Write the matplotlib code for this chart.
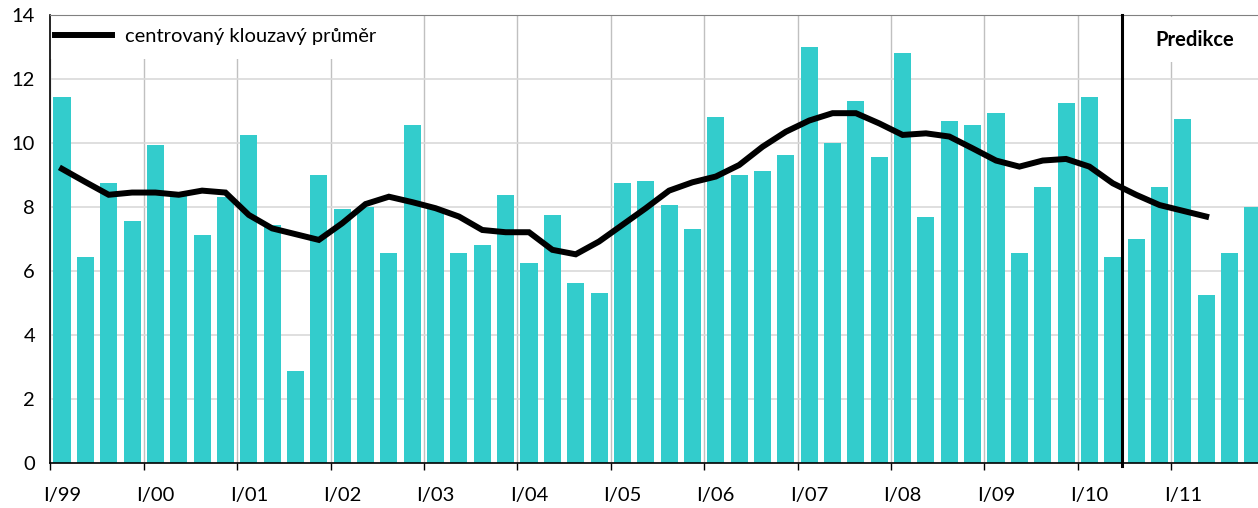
import numpy as np
import matplotlib
matplotlib.use('Agg')
import matplotlib.pyplot as plt
from matplotlib.patches import Rectangle

plt.rcParams['font.family'] = ['Lato', 'DejaVu Sans']

years = ['99', '00', '01', '02', '03', '04', '05', '06', '07', '08', '09', '10', '11']
tick_labels = ['I/' + y for y in years]

# quarterly values I/99 .. IV/11
values = [11.45, 6.45, 8.76, 7.57,
          9.95, 8.40, 7.13, 8.32,
          10.26, 7.45, 2.88, 9.01,
          7.95, 8.01, 6.57, 10.57,
          7.95, 6.57, 6.82, 8.39,
          6.26, 7.76, 5.64, 5.32,
          8.76, 8.82, 8.07, 7.32,
          10.82, 9.01, 9.13, 9.63,
          13.01, 10.01, 11.32, 9.57,
          12.82, 7.70, 10.70, 10.57,
          10.95, 6.57, 8.64, 11.26,
          11.45, 6.45, 7.01, 8.64,
          10.76, 5.26, 6.57, 8.01]

# centered moving average, I/99 .. II/11
moving_avg = [9.20, 8.79, 8.39, 8.46, 8.46, 8.39, 8.52, 8.46,
              7.76, 7.34, 7.16, 6.98, 7.50, 8.10, 8.33, 8.16,
              7.97, 7.71, 7.29, 7.22, 7.22, 6.67, 6.53, 6.93,
              7.45, 7.97, 8.52, 8.78, 8.96, 9.32, 9.89, 10.36,
              10.71, 10.94, 10.94, 10.62, 10.26, 10.31, 10.21, 9.84,
              9.46, 9.27, 9.46, 9.51, 9.27, 8.75, 8.39, 8.07,
              7.89, 7.71]

prediction_start = 45.4
fs = 14.5

fig = plt.figure(figsize=(12.58, 5.08), dpi=100)
ax = fig.add_axes([0.04, 0.088, 0.9652, 0.882])

x = np.arange(len(values))
ax.bar(x, values, width=0.73, color='#33CCCC', zorder=2)
ax.plot(np.arange(len(moving_avg)), moving_avg, color='black', lw=4.3,
        solid_joinstyle='miter', zorder=3, label='centrovaný klouzavý průměr')

ax.plot([prediction_start, prediction_start], [-0.1, 14], color='black',
        lw=2.2, zorder=4, clip_on=False)
ax.text(48.5, 13.23, 'Predikce', fontsize=fs, fontweight='bold',
        ha='center', va='center', zorder=5,
        bbox=dict(facecolor='white', edgecolor='none', pad=9))

ax.set_xlim(-0.5, 51.5)
ax.set_ylim(0, 14)
ax.set_yticks(np.arange(0, 15, 2))
ax.tick_params(axis='y', length=0, pad=11, labelsize=fs)

# year boundaries carry gridlines and tick marks, labels sit under first quarter
ax.set_xticks(np.arange(-0.5, 52, 4))
ax.set_xticklabels([])
ax.set_xticks(np.arange(0, 52, 4), minor=True)
ax.set_xticklabels(tick_labels, minor=True)
ax.tick_params(axis='x', which='major', length=5, width=1, direction='out', color='black')
ax.tick_params(axis='x', which='minor', length=0, pad=17, labelsize=fs)

ax.grid(axis='x', which='major', color='#c0c0c0', lw=1, zorder=0)
ax.grid(axis='y', color='#d9d9d9', lw=1.2, zorder=0)
ax.set_axisbelow(True)

ax.spines['top'].set_color('#808080')
ax.spines['right'].set_visible(False)
ax.spines['left'].set_color('black')
ax.spines['bottom'].set_color('black')
ax.spines['left'].set_linewidth(1.2)
ax.spines['bottom'].set_linewidth(1.2)

# white legend area hiding the gridlines
ax.add_patch(Rectangle((0, 0.9025), 0.3, 0.0975, transform=ax.transAxes,
                       facecolor='white', edgecolor='none', zorder=1))
leg = ax.legend(loc='center left', bbox_to_anchor=(0.0039, 0.9516), fontsize=fs,
                handlelength=2.83, handletextpad=0.65, frameon=False,
                borderpad=0, borderaxespad=0)
leg.set_zorder(6)

fig.savefig('out.png', dpi=100)
